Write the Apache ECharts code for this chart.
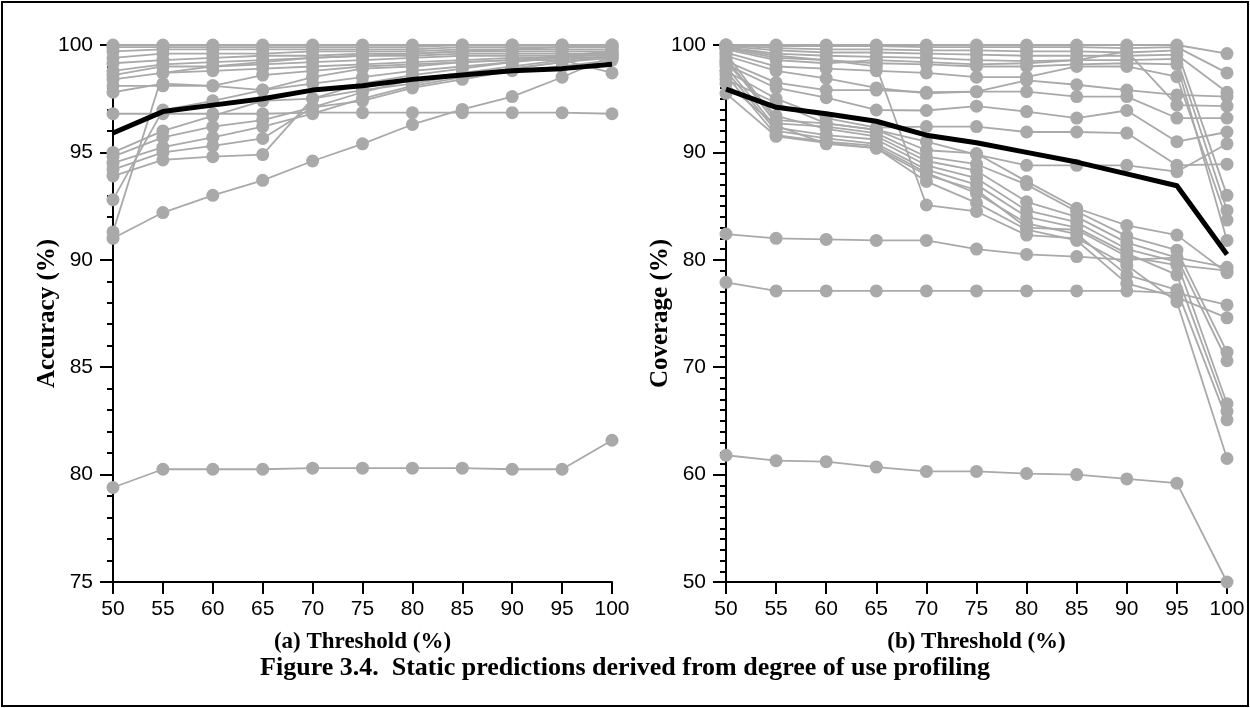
<!DOCTYPE html>
<html>
<head>
<meta charset="utf-8">
<title>Figure 3.4. Static predictions derived from degree of use profiling</title>
<script src="https://cdn.jsdelivr.net/npm/echarts@6/dist/echarts.min.js"></script>
<style>
  html, body { margin: 0; padding: 0; background: #ffffff; }
  #chart { width: 1250px; height: 708px; }
</style>
</head>
<body>
<div id="chart"></div>
<script>
// Thresholds shared by both panels (%)
const thresholds = [50, 55, 60, 65, 70, 75, 80, 85, 90, 95, 100];

// Panel (a): accuracy (%) of each profiled program at each threshold
const accuracyRuns = [
  [100, 100, 100, 100, 100, 100, 100, 100, 100, 100, 100],
  [99.9, 99.9, 99.9, 99.9, 99.9, 99.9, 99.9, 100, 100, 100, 100],
  [99.7, 99.8, 99.8, 99.8, 99.8, 99.8, 99.8, 99.9, 99.9, 99.9, 99.9],
  [99.4, 99.6, 99.6, 99.6, 99.7, 99.7, 99.7, 99.8, 99.8, 99.8, 99.8],
  [99.15, 99.3, 99.4, 99.5, 99.5, 99.6, 99.6, 99.7, 99.7, 99.7, 99.7],
  [98.8, 99.1, 99.2, 99.3, 99.4, 99.5, 99.5, 99.6, 99.6, 99.6, 99.6],
  [98.6, 99.0, 99.0, 99.1, 99.2, 99.3, 99.4, 99.5, 99.5, 99.5, 99.5],
  [98.4, 98.7, 98.8, 98.9, 99.0, 99.1, 99.2, 99.3, 99.4, 99.4, 99.4],
  [98.1, 98.1, 98.1, 98.6, 98.8, 99.0, 99.1, 99.2, 99.3, 99.3, 98.7],
  [97.8, 98.2, 98.1, 97.9, 98.5, 98.9, 99.0, 99.2, 99.3, 99.5, 99.6],
  [96.8, 96.8, 96.8, 96.8, 96.85, 96.85, 96.85, 96.85, 96.85, 96.85, 96.8],
  [95.0, 96.0, 96.7, 97.4, 97.5, 98.2, 98.6, 98.9, 99.2, 99.5, 99.7],
  [94.8, 95.7, 96.2, 96.5, 97.1, 97.8, 98.4, 98.7, 99.0, 99.3, 99.5],
  [94.5, 95.25, 95.7, 96.2, 96.8, 97.5, 98.1, 98.5, 98.9, 99.2, 99.4],
  [94.2, 95.0, 95.3, 95.65, 97.1, 97.4, 98.0, 98.4, 98.8, 99.0, 99.3],
  [93.9, 94.65, 94.8, 94.9, 97.5, 97.9, 98.2, 98.6, 98.9, 99.2, 99.5],
  [92.8, 96.97, 97.4, 97.9, 98.2, 98.5, 98.8, 99.0, 99.2, 99.4, 99.6],
  [91.3, 98.7, 99.0, 99.2, 99.4, 99.5, 99.6, 99.7, 99.8, 99.9, 99.9],
  [91.0, 92.2, 93.0, 93.7, 94.6, 95.4, 96.3, 97.0, 97.6, 98.5, 99.5],
  [79.4, 80.25, 80.25, 80.25, 80.3, 80.3, 80.3, 80.3, 80.25, 80.25, 81.6]
];
// Panel (a): mean accuracy over all programs
const accuracyMean = [95.9, 96.9, 97.2, 97.5, 97.9, 98.1, 98.4, 98.6, 98.8, 98.9, 99.1];

// Panel (b): coverage (%) of each profiled program at each threshold
const coverageRuns = [
  [100, 100, 100, 100, 100, 100, 100, 100, 100, 100, 99.2],
  [100, 99.9, 99.9, 99.9, 99.8, 99.8, 99.8, 99.8, 99.7, 99.8, 97.4],
  [100, 99.7, 99.6, 99.6, 99.5, 99.5, 99.4, 99.4, 99.3, 99.5, 86.0],
  [99.9, 99.5, 99.3, 99.3, 99.2, 99.1, 99.0, 99.0, 99.0, 99.1, 95.6],
  [99.8, 99.2, 99.0, 98.9, 98.8, 98.6, 98.5, 98.6, 98.6, 98.7, 84.6],
  [99.7, 98.8, 98.6, 98.3, 98.2, 98.0, 98.0, 98.2, 98.3, 98.2, 81.8],
  [99.6, 98.6, 98.3, 98.6, 98.4, 98.2, 98.3, 98.6, 99.4, 94.4, 94.3],
  [99.3, 98.0, 97.8, 97.6, 97.4, 97.0, 97.0, 98.0, 98.0, 97.05, 83.7],
  [99.0, 97.6, 96.9, 96.0, 95.5, 95.65, 96.7, 96.3, 95.8, 95.35, 95.2],
  [98.5, 96.5, 95.8, 95.8, 95.6, 95.65, 95.65, 95.2, 95.2, 93.2, 93.2],
  [98.2, 96.0, 95.1, 93.95, 93.9, 94.3, 93.8, 93.2, 93.9, 91.0, 91.9],
  [97.6, 95.0, 93.2, 92.3, 92.4, 92.4, 91.9, 91.9, 91.8, 88.8, 88.9],
  [96.8, 94.6, 92.7, 92.1, 91.0, 89.8, 88.8, 88.8, 88.8, 88.2, 90.8],
  [99.2, 93.0, 92.7, 92.1, 90.2, 89.9, 87.3, 84.8, 83.2, 82.3, 78.8],
  [98.8, 92.7, 92.4, 91.8, 89.6, 88.9, 87.0, 84.5, 82.2, 80.9, 71.4],
  [98.4, 93.4, 92.2, 91.5, 89.2, 88.3, 85.4, 84.0, 81.6, 80.2, 70.6],
  [98.0, 92.3, 91.6, 91.2, 88.8, 87.6, 84.6, 83.5, 81.0, 79.8, 66.6],
  [97.6, 92.0, 91.3, 90.8, 88.4, 87.0, 84.0, 83.0, 80.6, 78.6, 65.9],
  [97.2, 91.6, 91.0, 90.6, 88.1, 86.2, 83.4, 82.4, 78.6, 77.2, 65.1],
  [96.4, 92.5, 90.8, 90.4, 87.3, 85.3, 82.8, 81.8, 77.8, 76.5, 74.6],
  [99.8, 99.0, 98.6, 98.0, 85.1, 84.5, 82.3, 82.0, 79.5, 76.1, 61.5],
  [95.5, 91.5, 90.9, 90.4, 87.9, 86.5, 83.0, 82.8, 80.3, 79.5, 79.0],
  [82.4, 82.0, 81.9, 81.8, 81.8, 81.0, 80.5, 80.3, 80.0, 80.2, 79.3],
  [77.9, 77.1, 77.1, 77.1, 77.1, 77.1, 77.1, 77.1, 77.1, 76.9, 75.8],
  [61.8, 61.3, 61.2, 60.7, 60.3, 60.3, 60.1, 60.0, 59.6, 59.2, 50.0]
];
// Panel (b): mean coverage over all programs
const coverageMean = [95.9, 94.2, 93.6, 92.9, 91.6, 90.9, 90.0, 89.1, 88.0, 86.9, 80.5];

// Axis and caption texts
const xTitles = ['(a) Threshold (%)', '(b) Threshold (%)'];
const yTitles = ['Accuracy (%)', 'Coverage (%)'];
const caption = 'Figure 3.4.  Static predictions derived from degree of use profiling';

const GRAY = '#a9a9a9';
const SERIF = '"Liberation Serif", "Times New Roman", serif';
const SANS = '"Liberation Sans", Arial, sans-serif';

function pairs(values) {
  return values.map((v, i) => [thresholds[i], v]);
}

function runSeries(runs, axisIndex) {
  return runs.map((values) => ({
    type: 'line',
    xAxisIndex: axisIndex,
    yAxisIndex: axisIndex,
    data: pairs(values),
    symbol: 'circle',
    symbolSize: 13,
    showSymbol: true,
    clip: false,
    silent: true,
    animation: false,
    itemStyle: { color: GRAY },
    lineStyle: { color: GRAY, width: 1.8 },
    z: 2
  }));
}

function meanSeries(values, axisIndex) {
  return {
    type: 'line',
    xAxisIndex: axisIndex,
    yAxisIndex: axisIndex,
    data: pairs(values),
    symbol: 'none',
    clip: false,
    silent: true,
    animation: false,
    lineStyle: { color: '#000000', width: 5, join: 'round' },
    z: 5
  };
}

function xAxisFor(gridIndex) {
  return {
    type: 'value',
    gridIndex: gridIndex,
    min: 50,
    max: 100,
    interval: 5,
    name: xTitles[gridIndex],
    nameLocation: 'middle',
    nameGap: 49,
    nameMoveOverlap: false,
    nameTextStyle: { fontFamily: SERIF, fontWeight: 'bold', fontSize: 23, color: '#000' },
    axisLine: { show: true, onZero: false, lineStyle: { color: '#000', width: 2 } },
    axisTick: { show: true, inside: false, length: 12, lineStyle: { color: '#000', width: 2 } },
    axisLabel: { fontFamily: SANS, fontSize: 21, color: '#000', margin: 17 },
    splitLine: { show: false }
  };
}

function yAxisFor(gridIndex, min, interval, minorSplit) {
  return {
    type: 'value',
    gridIndex: gridIndex,
    min: min,
    max: 100,
    interval: interval,
    name: yTitles[gridIndex],
    nameLocation: 'middle',
    nameGap: 53,
    nameMoveOverlap: false,
    nameRotate: 90,
    nameTextStyle: { fontFamily: SERIF, fontWeight: 'bold', fontSize: 25, color: '#000' },
    axisLine: { show: true, onZero: false, lineStyle: { color: '#000', width: 2 } },
    axisTick: { show: true, inside: false, length: 13, lineStyle: { color: '#000', width: 2 } },
    minorTick: { show: true, splitNumber: minorSplit, length: 6, lineStyle: { color: '#000', width: 2 } },
    axisLabel: { fontFamily: SANS, fontSize: 21, color: '#000', margin: 20 },
    splitLine: { show: false },
    minorSplitLine: { show: false }
  };
}

const chart = echarts.init(document.getElementById('chart'), null, { renderer: 'canvas' });

chart.setOption({
  backgroundColor: '#ffffff',
  animation: false,
  grid: [
    { left: 113, top: 45, width: 499, height: 537 },
    { left: 726, top: 45, width: 501, height: 537 }
  ],
  xAxis: [xAxisFor(0), xAxisFor(1)],
  yAxis: [yAxisFor(0, 75, 5, 5), yAxisFor(1, 50, 10, 10)],
  series: [
    ...runSeries(accuracyRuns, 0),
    meanSeries(accuracyMean, 0),
    ...runSeries(coverageRuns, 1),
    meanSeries(coverageMean, 1)
  ],
  graphic: [
    {
      type: 'rect',
      shape: { x: 2, y: 2, width: 1246, height: 704 },
      style: { fill: null, stroke: '#000', lineWidth: 2 },
      silent: true,
      z: 10
    },
    {
      type: 'text',
      left: 'center',
      top: 655,
      style: {
        text: caption,
        fontFamily: SERIF,
        fontWeight: 'bold',
        fontSize: 26,
        fill: '#000'
      },
      silent: true
    }
  ]
});
</script>
</body>
</html>
